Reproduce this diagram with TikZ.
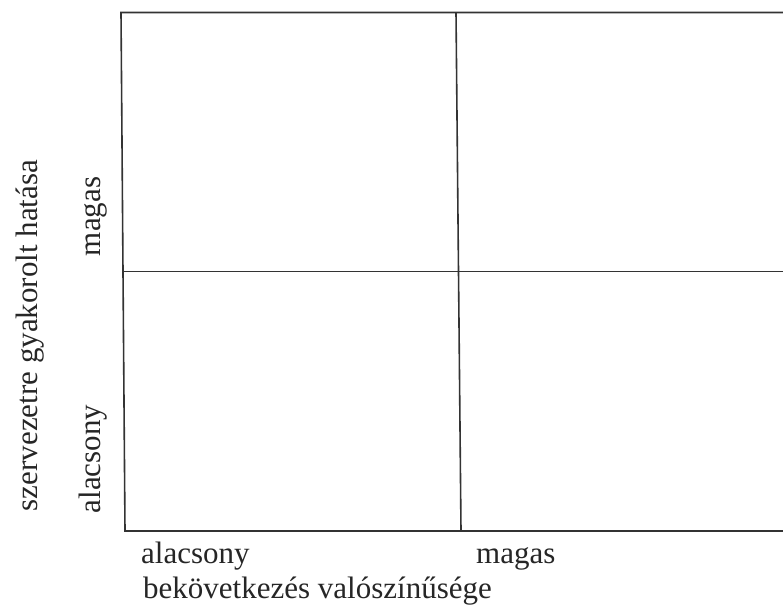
\documentclass[tikz,border=0pt]{standalone}
\usepackage{fontspec}
\setmainfont{Liberation Serif}
\begin{document}
\begin{tikzpicture}[x=1pt,y=-1pt,
  gridline/.style={draw=black!80,line width=1.6pt},
  lbl/.style={inner sep=0pt,text=black!85,font=\fontsize{31}{36}\selectfont}]
\useasboundingbox (0,0) rectangle (783,614);
% grid corners
\coordinate (tl) at (121,12.5);
\coordinate (bl) at (125,531);
\coordinate (tm) at (456,12.5);
\coordinate (bm) at (461,531);
\coordinate (ml) at (123,271.5);
\coordinate (tr) at (790,12.5);
\coordinate (mr) at (790,271.5);
\coordinate (br) at (790,531);
\draw[gridline] (tr) -- (tl) -- (bl) -- (br);
\draw[gridline] (tm) -- (bm);
\draw[gridline] (ml) -- (mr);
% axis labels
\node[lbl,anchor=base west] (xlow) at (141,563) {alacsony};
\node[lbl,anchor=base west] (xhigh) at (476,563) {magas};
\node[lbl,anchor=base west] (xtitle) at (143,598) {bekövetkezés valószínűsége};
\node[lbl,anchor=base,rotate=90] (ylow) at (100,459) {alacsony};
\node[lbl,anchor=base,rotate=90] (yhigh) at (100,216.5) {magas};
\node[lbl,anchor=base,rotate=90] (ytitle) at (37,335.5) {szervezetre gyakorolt hatása};
\end{tikzpicture}
\end{document}
